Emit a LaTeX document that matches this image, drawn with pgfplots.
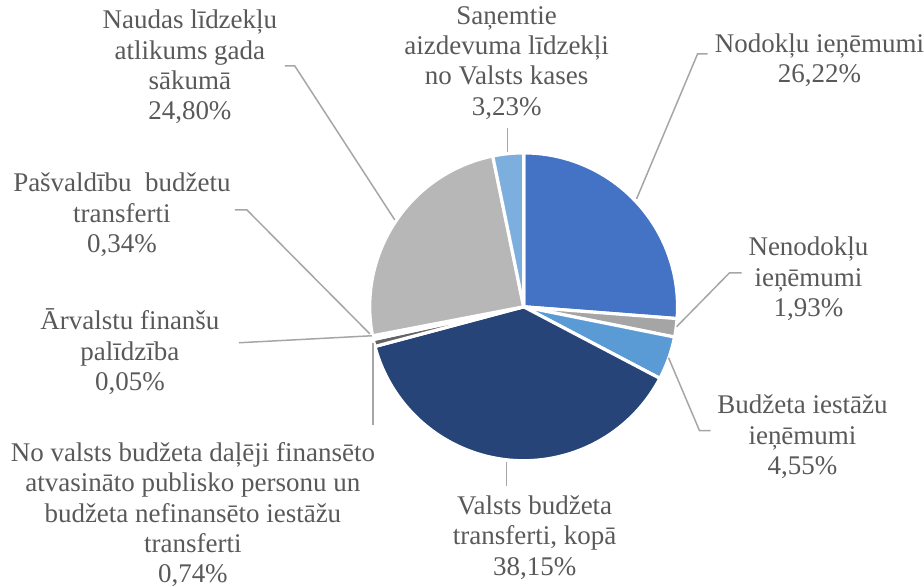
\documentclass[border=0pt]{standalone}
\usepackage{pgfplots}
\pgfplotsset{compat=1.18}
\usepackage{fontspec}
\setmainfont{Liberation Serif}
\definecolor{c1}{HTML}{4472C4}
\definecolor{c2}{HTML}{A5A5A5}
\definecolor{c3}{HTML}{5B9BD5}
\definecolor{c4}{HTML}{264478}
\definecolor{c5}{HTML}{636363}
\definecolor{c6}{HTML}{255E91}
\definecolor{c7}{HTML}{698ED0}
\definecolor{c8}{HTML}{B7B7B7}
\definecolor{c9}{HTML}{7CAFDD}
\definecolor{txt}{HTML}{595959}
\definecolor{lead}{HTML}{A6A6A6}
\tikzset{lbl/.style={font=\fontsize{13.5}{15.2}\selectfont,
  text=txt,align=center,inner sep=0pt}}
% pie slice: #1 = share before it (%), #2 = share (%), #3 = colour
% clockwise from 12 o'clock, radius 154 px = 77pt
\newcommand\slice[3]{%
  \filldraw[fill=#3,draw=white,line width=1.6pt,line join=round]
    (axis cs:524,307) -- ++({90-3.6*#1}:77pt)
    arc[start angle={90-3.6*#1},end angle={90-3.6*(#1+#2)},radius=77pt]
    -- cycle;}
\begin{document}
\begin{tikzpicture}
\begin{axis}[x=0.5pt,y=0.5pt,xmin=0,xmax=924,ymin=0,ymax=587,
  y dir=reverse,hide axis,clip=false]
\path (axis cs:0,0) rectangle (axis cs:924,587);
% shares of the total, in %
\slice{0}{26.22}{c1}
\slice{26.22}{1.93}{c2}
\slice{28.15}{4.55}{c3}
\slice{32.70}{38.15}{c4}
\slice{70.85}{0.74}{c5}
\slice{71.59}{0.05}{c6}
\slice{71.64}{0.34}{c7}
\slice{71.98}{24.80}{c8}
\slice{96.78}{3.23}{c9}
% leader lines
\begin{scope}[lead,line width=0.75pt]
\draw (axis cs:637,199) -- (axis cs:698,54) -- (axis cs:708,54);
\draw (axis cs:677,327) -- (axis cs:730,273) -- (axis cs:742,273);
\draw (axis cs:669,358) -- (axis cs:700,431) -- (axis cs:711,431);
\draw (axis cs:507,462) -- (axis cs:507,486);
\draw (axis cs:373,343) -- (axis cs:373,425);
\draw (axis cs:239,343) -- (axis cs:372,336);
\draw (axis cs:235,210) -- (axis cs:247,210) -- (axis cs:370,334);
\draw (axis cs:285,66) -- (axis cs:295,66) -- (axis cs:395,220);
\draw (axis cs:508,128) -- (axis cs:508,152);
\end{scope}
% labels
\node[lbl] at (axis cs:820,60) {Nodokļu ieņēmumi\\26,22\%};
\node[lbl] at (axis cs:809,279) {Nenodokļu\\ieņēmumi\\1,93\%};
\node[lbl] at (axis cs:803,437) {Budžeta iestāžu\\ieņēmumi\\4,55\%};
\node[lbl] at (axis cs:535,538) {Valsts budžeta\\transferti, kopā\\38,15\%};
\node[lbl] at (axis cs:193,515) {No valsts budžeta daļēji finansēto\\atvasināto publisko personu un\\budžeta nefinansēto iestāžu\\transferti\\0,74\%};
\node[lbl] at (axis cs:130,352) {Ārvalstu finanšu\\palīdzība\\0,05\%};
\node[lbl] at (axis cs:122,215) {Pašvaldību\ \ budžetu\\transferti\\0,34\%};
\node[lbl] at (axis cs:190,67) {Naudas līdzekļu\\atlikums gada\\sākumā\\24,80\%};
\node[lbl] at (axis cs:507,63) {Saņemtie\\aizdevuma līdzekļi\\no Valsts kases\\3,23\%};
\end{axis}
\end{tikzpicture}
\end{document}
